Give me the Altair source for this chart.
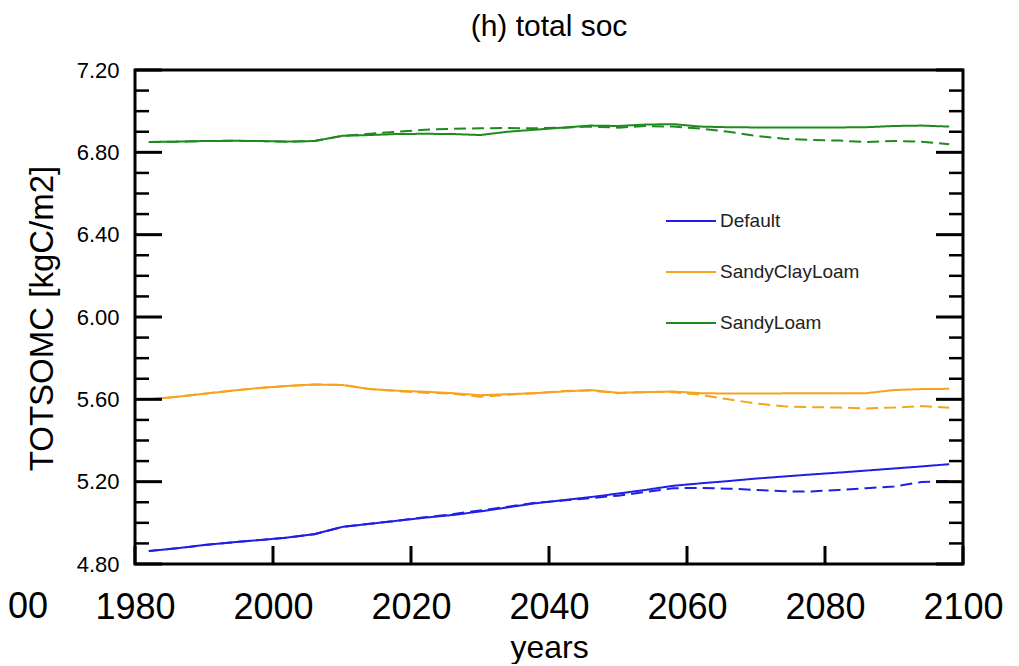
import altair as alt
import pandas as pd

# ---------------- data ----------------
years = [1982, 1986, 1990, 1994, 1998, 2002, 2006, 2010, 2014, 2018,
         2022, 2026, 2030, 2034, 2038, 2042, 2046, 2050, 2054, 2058,
         2062, 2066, 2070, 2074, 2078, 2082, 2086, 2090, 2094, 2098]

default_solid = [4.863, 4.876, 4.892, 4.905, 4.916, 4.928, 4.945, 4.980, 4.995, 5.010,
                 5.025, 5.038, 5.055, 5.075, 5.095, 5.110, 5.125, 5.142, 5.160, 5.180,
                 5.192, 5.203, 5.215, 5.225, 5.235, 5.244, 5.254, 5.264, 5.274, 5.285]
default_dashed = [4.863, 4.876, 4.892, 4.905, 4.916, 4.928, 4.945, 4.980, 4.995, 5.010,
                  5.027, 5.042, 5.060, 5.078, 5.097, 5.108, 5.120, 5.132, 5.150, 5.168,
                  5.170, 5.166, 5.160, 5.153, 5.152, 5.160, 5.168, 5.177, 5.198, 5.203]

scl_solid = [5.600, 5.612, 5.627, 5.642, 5.655, 5.665, 5.672, 5.670, 5.650, 5.642,
             5.637, 5.630, 5.620, 5.625, 5.630, 5.638, 5.645, 5.632, 5.635, 5.638,
             5.630, 5.628, 5.628, 5.629, 5.629, 5.629, 5.630, 5.645, 5.650, 5.651]
scl_dashed = [5.600, 5.612, 5.627, 5.642, 5.655, 5.665, 5.672, 5.670, 5.650, 5.640,
              5.632, 5.628, 5.612, 5.622, 5.630, 5.640, 5.643, 5.630, 5.636, 5.635,
              5.622, 5.600, 5.580, 5.566, 5.562, 5.560, 5.556, 5.560, 5.567, 5.559]

sl_solid = [6.850, 6.852, 6.855, 6.856, 6.855, 6.852, 6.855, 6.880, 6.884, 6.889,
            6.890, 6.889, 6.884, 6.900, 6.910, 6.920, 6.930, 6.928, 6.935, 6.937,
            6.925, 6.922, 6.921, 6.921, 6.921, 6.921, 6.922, 6.928, 6.930, 6.925]
sl_dashed = [6.850, 6.852, 6.855, 6.856, 6.855, 6.852, 6.855, 6.880, 6.890, 6.900,
             6.910, 6.914, 6.917, 6.918, 6.917, 6.920, 6.925, 6.920, 6.928, 6.925,
             6.915, 6.900, 6.880, 6.866, 6.860, 6.857, 6.850, 6.855, 6.852, 6.839]

series_names = ["Default", "SandyClayLoam", "SandyLoam"]
series_colors = ["#1f1fe6", "#f6a31e", "#1f8a1f"]

x_tick_values = [1980, 2000, 2020, 2040, 2060, 2080, 2100]
y_major_values = [4.8, 5.2, 5.6, 6.0, 6.4, 6.8, 7.2]
y_minor_values = [4.9, 5.0, 5.1, 5.3, 5.4, 5.5, 5.7, 5.8, 5.9,
                  6.1, 6.2, 6.3, 6.5, 6.6, 6.7, 6.9, 7.0, 7.1]

# ---------------- build table ----------------
rows = []
for name, solid, dashed in [("Default", default_solid, default_dashed),
                            ("SandyClayLoam", scl_solid, scl_dashed),
                            ("SandyLoam", sl_solid, sl_dashed)]:
    for yr, v in zip(years, solid):
        rows.append({"year": yr, "value": v, "series": name, "run": "solid"})
    for yr, v in zip(years, dashed):
        rows.append({"year": yr, "value": v, "series": name, "run": "dashed"})
df = pd.DataFrame(rows)

W, H = 828, 494
FONT = "Liberation Sans"

xscale = alt.Scale(domain=[1980, 2100], nice=False, zero=False)
yscale = alt.Scale(domain=[4.8, 7.2], nice=False, zero=False)

x_axis = alt.Axis(values=x_tick_values, format="d", title="years",
                  labelFontSize=36, labelPadding=26, labelFlush=False,
                  labelBound=False, labelOverlap=False,
                  titleFontSize=32, titleFontWeight="normal",
                  titleBaseline="alphabetic", titleY=93, titleX=W / 2,
                  titleAlign="center")
y_axis = alt.Axis(values=y_major_values, format=".2f",
                  title="TOTSOMC [kgC/m2]",
                  labelFontSize=22, labelPadding=16, labelFlush=False,
                  labelOverlap=False,
                  titleFontSize=33, titleFontWeight="normal",
                  titleAngle=270, titleAlign="center",
                  titleBaseline="alphabetic", titleX=-83, titleY=248)

lines = alt.Chart(df).mark_line(strokeWidth=2, clip=True).encode(
    x=alt.X("year:Q", scale=xscale, axis=x_axis),
    y=alt.Y("value:Q", scale=yscale, axis=y_axis),
    color=alt.Color("series:N",
                    scale=alt.Scale(domain=series_names, range=series_colors),
                    legend=alt.Legend(title=None, orient="none", legendX=530, legendY=125,
                                      symbolType="stroke", symbolSize=2500,
                                      symbolStrokeWidth=2, labelFontSize=19,
                                      labelFont=FONT, labelOffset=3, rowPadding=15,
                                      labelColor="#222222")),
    strokeDash=alt.StrokeDash("run:N",
                              scale=alt.Scale(domain=["solid", "dashed"],
                                              range=[[1, 0], [12, 6]]),
                              legend=None),
    detail="run:N",
)

ymaj = pd.DataFrame({"value": y_major_values})
ymin = pd.DataFrame({"value": y_minor_values})
xt = pd.DataFrame({"year": x_tick_values})

left_major = alt.Chart(ymaj).mark_rule(color="black", strokeWidth=3).encode(
    y=alt.Y("value:Q", scale=yscale, axis=y_axis), x=alt.value(0), x2=alt.value(27))
right_major = alt.Chart(ymaj).mark_rule(color="black", strokeWidth=3).encode(
    y=alt.Y("value:Q", scale=yscale, axis=y_axis), x=alt.value(W - 27), x2=alt.value(W))
left_minor = alt.Chart(ymin).mark_rule(color="black", strokeWidth=2.5).encode(
    y=alt.Y("value:Q", scale=yscale, axis=y_axis), x=alt.value(0), x2=alt.value(14))
right_minor = alt.Chart(ymin).mark_rule(color="black", strokeWidth=2.5).encode(
    y=alt.Y("value:Q", scale=yscale, axis=y_axis), x=alt.value(W - 14), x2=alt.value(W))
x_ticks = alt.Chart(xt).mark_rule(color="black", strokeWidth=3).encode(
    x=alt.X("year:Q", scale=xscale, axis=x_axis), y=alt.value(H - 18), y2=alt.value(H))

frag = alt.Chart(pd.DataFrame({"s": ["00"]})).mark_text(
    align="right", baseline="alphabetic", fontSize=36, font=FONT, color="black"
).encode(text="s:N", x=alt.value(-87), y=alt.value(548))

chart = alt.layer(lines, left_major, right_major, left_minor, right_minor, x_ticks, frag).properties(
    width=W, height=H,
    title=alt.TitleParams("(h) total soc", fontSize=30, font=FONT, fontWeight="normal",
                          anchor="middle", offset=17, color="black"),
    autosize=alt.AutoSizeParams(type="none"),
    padding={"left": 127, "top": 62, "right": 48, "bottom": 100},
).configure_view(
    stroke="black", strokeWidth=3
).configure_axis(
    domain=False, ticks=False, grid=False,
    labelFont=FONT, titleFont=FONT, labelColor="black", titleColor="black"
)

chart.save("out.html", embed_options={"renderer": "svg", "actions": False})
